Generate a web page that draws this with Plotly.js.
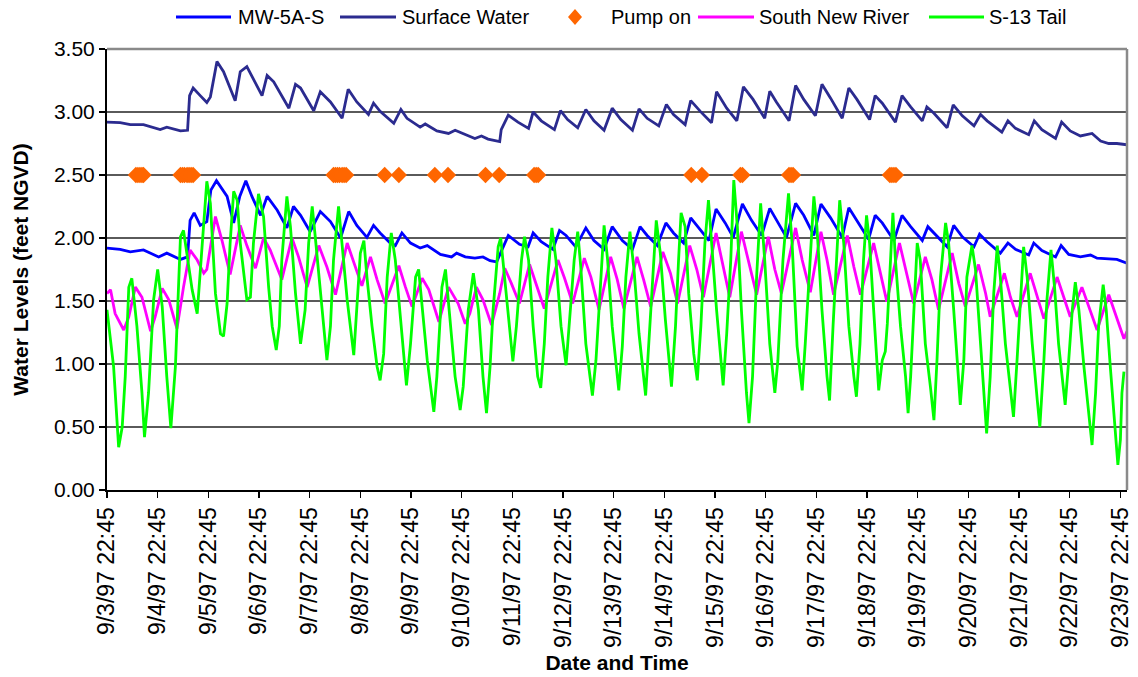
<!DOCTYPE html>
<html>
<head>
<meta charset="utf-8">
<script src="https://cdn.plot.ly/plotly-3.0.1.min.js"></script>
<style>
  html, body { margin: 0; padding: 0; background: #fff; }
  #chart { width: 1138px; height: 677px; }
</style>
</head>
<body>
<div id="chart"></div>
<script>
// Time is counted in days after 9/3/97 22:45.
const dayLabels = [
  "9/3/97 22:45", "9/4/97 22:45", "9/5/97 22:45", "9/6/97 22:45", "9/7/97 22:45",
  "9/8/97 22:45", "9/9/97 22:45", "9/10/97 22:45", "9/11/97 22:45", "9/12/97 22:45",
  "9/13/97 22:45", "9/14/97 22:45", "9/15/97 22:45", "9/16/97 22:45", "9/17/97 22:45",
  "9/18/97 22:45", "9/19/97 22:45", "9/20/97 22:45", "9/21/97 22:45", "9/22/97 22:45",
  "9/23/97 22:45"
];

// MW-5A-S well level (feet NGVD)
const mwDay = [0.00,0.26,0.46,0.72,1.02,1.18,1.45,1.59,1.64,1.72,1.84,1.97,2.05,2.16,2.37,2.50,2.62,2.74,2.86,3.03,
  3.16,3.36,3.55,3.68,3.82,4.01,4.21,4.41,4.61,4.77,4.93,5.13,5.26,5.39,5.59,5.69,5.82,5.99,6.18,6.32,
  6.58,6.80,6.90,7.07,7.26,7.42,7.56,7.69,7.82,7.92,8.14,8.31,8.41,8.57,8.80,8.93,9.06,9.25,9.45,9.61,
  9.81,9.97,10.17,10.37,10.52,10.66,10.86,11.03,11.18,11.38,11.52,11.71,11.88,12.02,12.20,12.36,12.54,12.72,12.92,13.08,
  13.21,13.41,13.59,13.75,13.95,14.09,14.28,14.51,14.64,14.80,15.03,15.16,15.30,15.53,15.69,15.86,16.09,16.20,16.35,16.58,
  16.71,16.88,17.11,17.22,17.37,17.63,17.78,17.93,18.19,18.29,18.45,18.72,18.83,18.98,19.21,19.41,19.54,19.93,20.13];
const mwLevel = [1.92,1.91,1.89,1.905,1.85,1.88,1.83,1.85,2.14,2.20,2.10,2.13,2.38,2.455,2.33,2.12,2.33,2.455,2.33,2.18,
  2.33,2.22,2.08,2.25,2.18,2.05,2.21,2.13,2.00,2.21,2.10,2.005,2.10,2.04,1.96,1.94,2.04,1.96,1.92,1.94,
  1.87,1.85,1.88,1.85,1.84,1.85,1.82,1.81,1.93,2.02,1.95,1.93,2.04,1.97,1.91,2.06,2.02,1.93,2.08,1.98,
  1.91,2.09,1.98,1.91,2.09,2.02,1.94,2.12,2.04,1.96,2.16,2.06,1.98,2.23,2.12,2.005,2.27,2.14,2.02,2.235,
  2.14,2.005,2.275,2.18,2.02,2.27,2.16,2.005,2.24,2.14,1.99,2.18,2.12,1.98,2.18,2.09,1.98,2.09,2.03,1.93,
  2.10,2.01,1.93,2.03,1.97,1.88,1.96,1.91,1.865,1.96,1.90,1.85,1.94,1.87,1.85,1.865,1.84,1.83,1.80];

// Surface water level (feet NGVD)
const swDay = [0.00,0.26,0.46,0.72,1.05,1.18,1.45,1.59,1.63,1.70,1.84,1.97,2.04,2.17,2.30,2.53,2.63,2.76,3.06,3.16,
  3.29,3.59,3.72,3.82,4.08,4.21,4.41,4.64,4.76,4.93,5.16,5.26,5.39,5.66,5.80,5.92,6.18,6.28,6.51,6.74,
  6.87,7.13,7.26,7.39,7.52,7.75,7.78,7.92,8.11,8.32,8.41,8.57,8.83,8.95,9.09,9.29,9.45,9.61,9.81,9.97,
  10.14,10.37,10.50,10.66,10.89,11.04,11.18,11.41,11.52,11.71,11.93,12.03,12.23,12.43,12.56,12.75,12.98,13.08,13.21,13.46,
  13.59,13.75,13.98,14.11,14.28,14.51,14.64,14.80,15.05,15.16,15.30,15.56,15.69,15.86,16.09,16.18,16.32,16.58,16.70,16.88,
  17.11,17.24,17.37,17.66,17.78,17.93,18.19,18.30,18.45,18.72,18.84,19.01,19.21,19.44,19.61,19.77,19.93,20.13];
const swLevel = [2.92,2.915,2.90,2.90,2.86,2.88,2.85,2.855,3.13,3.19,3.13,3.075,3.12,3.40,3.32,3.09,3.32,3.36,3.13,3.29,
  3.24,3.03,3.22,3.19,3.01,3.16,3.08,2.95,3.18,3.08,2.98,3.07,3.005,2.91,3.02,2.95,2.88,2.905,2.85,2.83,
  2.855,2.81,2.79,2.81,2.785,2.765,2.86,2.975,2.92,2.87,3.00,2.93,2.86,3.01,2.94,2.875,3.02,2.93,2.855,3.03,
  2.94,2.855,3.025,2.95,2.89,3.06,2.98,2.90,3.09,3.005,2.915,3.16,3.03,2.93,3.20,3.10,2.95,3.165,3.08,2.93,
  3.21,3.10,2.97,3.22,3.11,2.95,3.19,3.10,2.94,3.13,3.07,2.92,3.13,3.04,2.93,3.04,2.99,2.875,3.057,2.97,
  2.89,2.98,2.93,2.84,2.93,2.87,2.82,2.93,2.86,2.79,2.92,2.85,2.81,2.83,2.77,2.75,2.75,2.74];

// Hours with the pump running, plotted on the 2.50 ft line
const pumpOnDay = [0.57,0.61,0.65,0.69,0.72, 1.45,1.49,1.53,1.58,1.62,1.66,1.70,
  4.47,4.51,4.55,4.59,4.64,4.68,4.72, 5.48,5.76, 6.47,6.73, 7.47,7.74, 8.43,8.47,8.51,
  11.53,11.74, 12.50,12.54, 13.46,13.50,13.54, 15.45,15.49,15.53,15.57];
const pumpMarkerLevel = 2.5;

// South New River stage (feet NGVD)
const snrDay = [0.00,0.07,0.16,0.33,0.43,0.56,0.69,0.86,0.95,1.09,1.22,1.38,1.51,1.64,1.78,1.91,1.97,2.14,2.27,2.43,
  2.63,2.76,2.93,3.09,3.22,3.45,3.65,3.78,3.95,4.18,4.34,4.51,4.74,4.87,5.03,5.20,5.33,5.49,5.76,5.89,
  6.02,6.22,6.35,6.55,6.74,6.93,7.07,7.16,7.29,7.42,7.59,7.75,7.85,7.98,8.14,8.34,8.47,8.63,8.90,9.03,
  9.19,9.42,9.55,9.71,9.94,10.07,10.20,10.46,10.59,10.73,10.97,11.12,11.26,11.50,11.64,11.77,12.02,12.13,12.29,12.52,
  12.65,12.82,13.05,13.18,13.31,13.59,13.72,13.88,14.09,14.21,14.34,14.61,14.74,14.87,15.13,15.26,15.39,15.64,15.79,15.92,
  16.15,16.28,16.41,16.68,16.81,16.94,17.20,17.34,17.43,17.71,17.83,17.96,18.22,18.36,18.49,18.75,18.88,19.01,19.24,19.38,
  19.54,19.77,19.90,20.07,20.13];
const snrLevel = [1.56,1.59,1.40,1.27,1.375,1.61,1.53,1.26,1.375,1.60,1.51,1.28,1.61,1.905,1.825,1.72,1.75,2.17,1.98,1.71,
  2.10,1.94,1.76,2.00,1.905,1.67,2.00,1.85,1.61,1.94,1.77,1.55,1.96,1.80,1.62,1.85,1.67,1.48,1.78,1.61,
  1.455,1.68,1.59,1.335,1.61,1.48,1.32,1.40,1.61,1.51,1.31,1.56,1.76,1.64,1.48,1.79,1.64,1.44,1.825,1.68,
  1.48,1.84,1.69,1.43,1.85,1.67,1.44,1.85,1.67,1.455,1.89,1.72,1.48,1.94,1.75,1.53,2.04,1.825,1.53,2.05,
  1.825,1.55,2.01,1.75,1.56,2.08,1.825,1.57,2.05,1.825,1.55,2.02,1.77,1.55,1.96,1.72,1.495,1.96,1.69,1.48,
  1.85,1.67,1.43,1.88,1.64,1.455,1.79,1.56,1.375,1.72,1.53,1.375,1.72,1.53,1.36,1.69,1.53,1.375,1.61,1.455,
  1.27,1.55,1.40,1.20,1.26];

// S-13 tailwater stage (feet NGVD)
const s13Day = [0.00,0.13,0.23,0.30,0.36,0.43,0.49,0.59,0.69,0.74,0.82,0.92,1.00,1.09,1.18,1.26,1.35,1.45,1.51,1.59,
  1.68,1.78,1.84,1.91,1.97,2.04,2.14,2.24,2.30,2.37,2.43,2.50,2.57,2.63,2.76,2.83,2.89,2.99,3.09,3.19,
  3.26,3.34,3.40,3.45,3.55,3.62,3.72,3.82,3.91,3.98,4.05,4.11,4.21,4.34,4.41,4.47,4.57,4.64,4.74,4.87,
  4.93,5.00,5.07,5.13,5.23,5.33,5.39,5.46,5.53,5.61,5.69,5.79,5.91,5.99,6.09,6.15,6.22,6.32,6.45,6.51,
  6.61,6.68,6.77,6.87,6.97,7.03,7.13,7.23,7.33,7.42,7.49,7.56,7.62,7.72,7.77,7.85,7.95,8.01,8.08,8.18,
  8.24,8.32,8.41,8.50,8.56,8.63,8.70,8.78,8.86,8.96,9.06,9.12,9.22,9.29,9.35,9.45,9.58,9.65,9.75,9.81,
  9.88,9.97,10.10,10.17,10.24,10.32,10.40,10.50,10.63,10.69,10.76,10.84,10.92,11.02,11.14,11.22,11.28,11.33,11.41,11.48,
  11.58,11.65,11.72,11.80,11.87,11.93,12.03,12.16,12.23,12.31,12.37,12.44,12.52,12.62,12.67,12.74,12.82,12.90,12.98,13.08,
  13.18,13.24,13.34,13.45,13.52,13.62,13.72,13.78,13.87,13.95,14.01,14.11,14.21,14.26,14.33,14.38,14.46,14.54,14.64,14.74,
  14.79,14.86,14.93,14.99,15.05,15.13,15.23,15.30,15.36,15.40,15.46,15.51,15.56,15.66,15.76,15.81,15.86,15.92,15.99,16.05,
  16.15,16.25,16.32,16.38,16.45,16.55,16.61,16.71,16.78,16.84,16.91,16.97,17.07,17.14,17.24,17.32,17.36,17.43,17.50,17.57,
  17.63,17.73,17.83,17.89,17.96,18.03,18.09,18.16,18.26,18.36,18.41,18.49,18.55,18.63,18.70,18.78,18.88,18.91,18.98,19.05,
  19.11,19.18,19.28,19.38,19.44,19.51,19.57,19.66,19.72,19.80,19.90,19.95,20.00,20.03,20.07];
const s13Level = [1.43,0.98,0.34,0.50,0.90,1.61,1.68,1.30,0.77,0.42,0.77,1.51,1.75,1.455,0.90,0.49,0.98,2.01,2.06,1.825,
  1.59,1.40,1.75,2.17,2.45,2.275,1.56,1.24,1.22,1.48,1.96,2.37,2.30,1.96,1.51,1.53,1.96,2.35,2.17,1.61,
  1.30,1.11,1.30,1.825,2.33,2.09,1.56,1.16,1.43,1.96,2.25,2.01,1.56,1.03,1.30,1.825,2.25,1.96,1.51,1.07,
  1.43,1.88,1.98,1.69,1.30,0.98,0.87,1.08,1.69,2.04,1.825,1.35,0.83,1.16,1.69,1.75,1.43,1.03,0.62,0.90,
  1.61,1.75,1.35,0.90,0.635,0.82,1.43,1.72,1.43,0.90,0.61,0.98,1.43,1.93,2.00,1.69,1.30,1.02,1.30,1.825,
  2.01,1.825,1.30,0.90,0.81,1.16,1.69,2.08,1.825,1.30,0.99,1.30,1.825,2.05,1.77,1.16,0.75,1.03,1.69,2.10,
  1.825,1.30,0.79,1.14,1.69,2.05,1.75,1.24,0.75,1.14,1.69,2.14,1.88,1.35,0.82,1.30,1.825,2.20,2.09,1.56,
  1.08,0.87,1.30,1.96,2.30,1.98,1.43,0.83,1.24,1.825,2.46,2.09,1.43,0.77,0.53,0.90,1.69,2.275,1.825,1.16,
  0.77,1.03,1.825,2.355,1.96,1.14,0.79,1.16,1.825,2.33,2.09,1.43,0.90,0.71,1.31,1.69,2.30,1.96,1.30,0.90,
  0.74,1.16,1.825,2.18,1.96,1.43,0.79,1.03,1.10,1.32,1.825,2.20,1.825,1.30,0.90,0.61,0.90,1.43,1.96,1.825,
  1.16,0.82,0.555,1.03,1.69,2.12,1.96,1.43,0.98,0.675,1.03,1.69,1.94,1.75,1.16,0.66,0.45,0.90,1.56,1.94,
  1.69,1.16,0.79,0.58,1.03,1.56,1.93,1.69,1.16,0.71,0.50,1.03,1.51,1.905,1.61,1.16,0.77,0.675,1.03,1.43,
  1.65,1.43,0.98,0.555,0.357,0.77,1.30,1.63,1.43,0.98,0.50,0.20,0.40,0.77,0.94];

// ---- plot frame, in pixels of the 1138 x 677 page ----
const W = 1138, H = 677;
const frame = { left: 107, right: 1127, top: 49, bottom: 490 };
const px = x => (x - frame.left) / (frame.right - frame.left);
const py = y => (frame.bottom - y) / (frame.bottom - frame.top);

const colors = {
  mw: '#0000FF',
  sw: '#2B2B8F',
  pump: '#FF6600',
  snr: '#FF00FF',
  s13: '#00FF00'
};

const lineTrace = (name, x, y, color) => ({
  type: 'scatter', mode: 'lines', name, x, y,
  line: { color, width: 2.8, shape: 'linear' },
  hoverinfo: 'x+y+name'
});

const traces = [
  lineTrace('MW-5A-S', mwDay, mwLevel, colors.mw),
  lineTrace('Surface Water', swDay, swLevel, colors.sw),
  {
    type: 'scatter', mode: 'markers', name: 'Pump on',
    x: pumpOnDay, y: pumpOnDay.map(() => pumpMarkerLevel),
    marker: { symbol: 'diamond', size: 12.5, color: colors.pump, line: { width: 0 } }
  },
  lineTrace('South New River', snrDay, snrLevel, colors.snr),
  lineTrace('S-13 Tail', s13Day, s13Level, colors.s13)
];

// Legend row above the plot: line samples / marker plus labels
const legendY = 17;
const legendItems = [
  { label: 'MW-5A-S', color: colors.mw, kind: 'line', x0: 176, x1: 231, tx: 236 },
  { label: 'Surface Water', color: colors.sw, kind: 'line', x0: 340, x1: 396, tx: 400 },
  { label: 'Pump on', color: colors.pump, kind: 'diamond', cx: 575, tx: 609 },
  { label: 'South New River', color: colors.snr, kind: 'line', x0: 698, x1: 754, tx: 757 },
  { label: 'S-13 Tail', color: colors.s13, kind: 'line', x0: 929, x1: 984, tx: 987 }
];

const shapes = [
  // grey frame along the top and the right side
  { type: 'line', xref: 'paper', yref: 'paper', x0: 0, x1: 1, y0: 1, y1: 1,
    line: { color: '#8a8a8a', width: 2.5 } },
  { type: 'line', xref: 'paper', yref: 'paper', x0: 1, x1: 1, y0: 0, y1: 1,
    line: { color: '#8a8a8a', width: 2.5 } }
];
const annotations = [];

legendItems.forEach(item => {
  if (item.kind === 'line') {
    shapes.push({ type: 'line', xref: 'paper', yref: 'paper',
      x0: px(item.x0), x1: px(item.x1), y0: py(legendY), y1: py(legendY),
      line: { color: item.color, width: 3 } });
  } else {
    const cx = item.cx, hw = 7, hh = 8;
    shapes.push({ type: 'path', xref: 'paper', yref: 'paper',
      path: `M ${px(cx)},${py(legendY - hh)} L ${px(cx + hw)},${py(legendY)} ` +
            `L ${px(cx)},${py(legendY + hh)} L ${px(cx - hw)},${py(legendY)} Z`,
      fillcolor: item.color, line: { width: 0 } });
  }
  annotations.push({ xref: 'paper', yref: 'paper', x: px(item.tx), y: py(legendY),
    xanchor: 'left', yanchor: 'middle', showarrow: false, text: item.label,
    font: { size: 20, color: '#000' } });
});

const layout = {
  width: W, height: H,
  margin: { l: frame.left, r: W - frame.right, t: frame.top, b: H - frame.bottom },
  paper_bgcolor: '#ffffff', plot_bgcolor: '#ffffff',
  showlegend: false,
  font: { family: '"Liberation Sans", Arial, sans-serif', color: '#000' },
  xaxis: {
    range: [0, 20.13], tickmode: 'array',
    tickvals: dayLabels.map((_, i) => i), ticktext: dayLabels,
    tickangle: -90, ticks: 'outside', ticklen: 6, tickwidth: 1.5, tickcolor: '#000',
    showline: true, linecolor: '#000', linewidth: 2,
    showgrid: false, zeroline: false,
    tickfont: { size: 23, color: '#000' },
    title: { text: '<b>Date and Time</b>', font: { size: 21, color: '#000' }, standoff: 8 }
  },
  yaxis: {
    range: [0, 3.5], tick0: 0, dtick: 0.5, tickformat: '.2f',
    ticks: 'outside', ticklen: 6, tickwidth: 1.5, tickcolor: '#000',
    showline: true, linecolor: '#000', linewidth: 2,
    showgrid: true, gridcolor: '#5a5a5a', gridwidth: 1.5, zeroline: false,
    tickfont: { size: 21, color: '#000' },
    title: { text: '<b>Water Levels (feet NGVD)</b>', font: { size: 21, color: '#000' }, standoff: 20 }
  },
  shapes, annotations
};

Plotly.newPlot('chart', traces, layout, { staticPlot: true, displayModeBar: false });
</script>
</body>
</html>
